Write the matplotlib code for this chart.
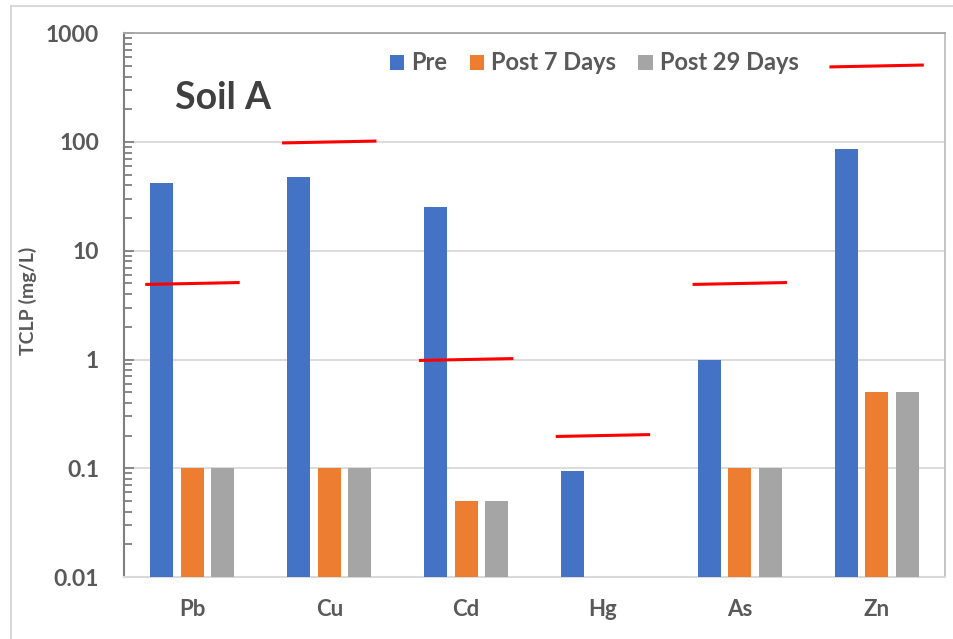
import numpy as np
import matplotlib
matplotlib.use('Agg')
import matplotlib.pyplot as plt
from matplotlib.ticker import LogLocator, NullFormatter, FixedLocator, FixedFormatter

plt.rcParams['font.family'] = ['Lato', 'DejaVu Sans']
plt.rcParams['font.weight'] = 'bold'

# TCLP leachate results, mg/L
metals = ['Pb', 'Cu', 'Cd', 'Hg', 'As', 'Zn']
pre = [42, 48, 25, 0.095, 1.0, 87]
post7 = [0.1, 0.1, 0.05, np.nan, 0.1, 0.5]
post29 = [0.1, 0.1, 0.05, np.nan, 0.1, 0.5]
# regulatory limits (red dashes)
limits = [5, 100, 1, 0.2, 5, 500]

series = [('Pre', pre, '#4472C4'),
          ('Post 7 Days', post7, '#ED7D31'),
          ('Post 29 Days', post29, '#A5A5A5')]

txt = '#595959'

fig = plt.figure(figsize=(9.54, 6.39), dpi=100)
fig.patch.set_facecolor('white')
ax = fig.add_axes([0.130, 0.097, 0.8606, 0.851])

x = np.arange(len(metals))
offs = [-0.223, 0, 0.223]
for (name, vals, col), o in zip(series, offs):
    ax.bar(x + o, vals, width=0.168, color=col, label=name, zorder=3)

# limit dashes, drawn slightly tilted like hand marks
for i, lim in enumerate(limits):
    ax.plot([i - 0.345, i + 0.345], [lim * 0.98, lim * 1.02],
            color='#FF0000', lw=2.2, solid_capstyle='butt', zorder=5)

ax.set_yscale('log')
ax.set_ylim(0.01, 1000)
ax.set_xlim(-0.5, len(metals) - 0.5)

ax.yaxis.set_major_locator(FixedLocator([0.01, 0.1, 1, 10, 100, 1000]))
ax.yaxis.set_major_formatter(FixedFormatter(['0.01', '0.1', '1', '10', '100', '1000']))
ax.yaxis.set_minor_locator(LogLocator(base=10, subs=np.arange(2, 10)))
ax.yaxis.set_minor_formatter(NullFormatter())

ax.set_xticks(x)
ax.set_xticklabels(metals)
ax.tick_params(axis='x', length=0, pad=16, labelsize=16, labelcolor=txt)
ax.tick_params(axis='y', which='major', direction='in', length=7, width=1.3,
               color='#7F7F7F', pad=18, labelsize=16.5, labelcolor=txt)
ax.tick_params(axis='y', which='minor', direction='in', length=6, width=1.3,
               color='#7F7F7F')

ax.grid(axis='y', which='major', color='#D9D9D9', lw=1.3, zorder=0)
ax.set_axisbelow(True)

ax.spines['left'].set_color('#7F7F7F')
ax.spines['left'].set_linewidth(1.5)
ax.spines['top'].set_color('#A6A6A6')
ax.spines['top'].set_linewidth(1.3)
ax.spines['right'].set_color('#BFBFBF')
ax.spines['right'].set_linewidth(1.3)
ax.spines['bottom'].set_color('#D9D9D9')
ax.spines['bottom'].set_linewidth(1.5)

ax.set_ylabel('TCLP (mg/L)', fontsize=14, color=txt, fontweight='bold')
ax.yaxis.set_label_coords(-0.106, 0.507)

ax.text(0.062, 0.86, 'Soil A', transform=ax.transAxes, fontsize=27,
        color='#404040', fontweight='bold', va='baseline', ha='left')

leg = fig.legend(loc='center left', bbox_to_anchor=(390 / 954, 1 - 63 / 639),
                 ncol=3, frameon=False, fontsize=17, handlelength=0.6,
                 handleheight=0.62, handletextpad=0.3, columnspacing=0.95,
                 borderaxespad=0, borderpad=0)
for t in leg.get_texts():
    t.set_color(txt)

# outer frame lines
fig.add_artist(plt.Line2D([11 / 954, 11 / 954], [0, 1 - 6 / 639],
                          transform=fig.transFigure, color='#D9D9D9', lw=1.5))
fig.add_artist(plt.Line2D([11 / 954, 1], [1 - 6 / 639, 1 - 6 / 639],
                          transform=fig.transFigure, color='#D9D9D9', lw=1.5))

fig.savefig('out.png', dpi=100, facecolor='white')
